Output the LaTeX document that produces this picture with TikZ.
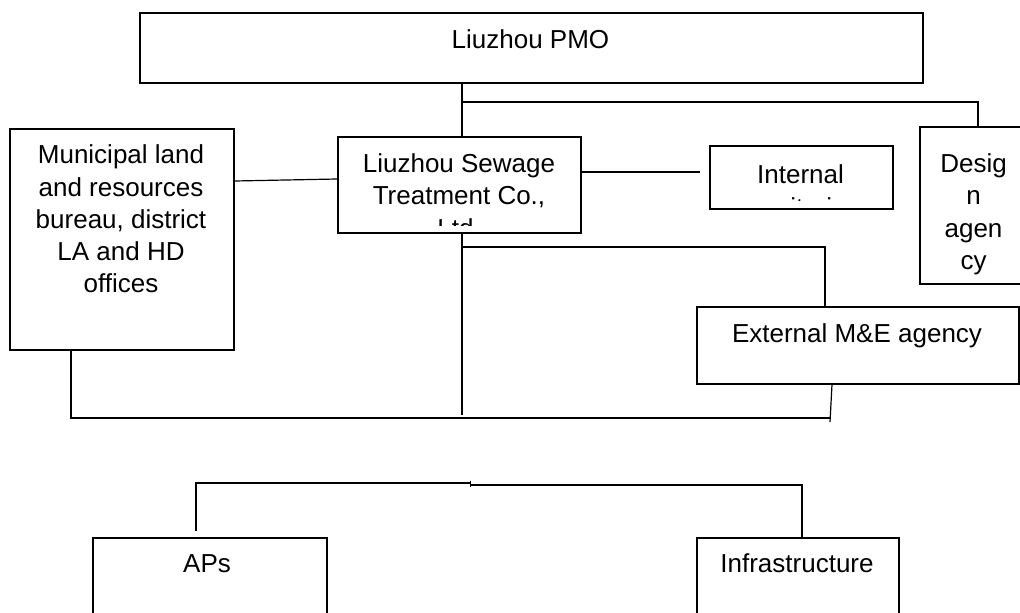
\documentclass[tikz,border=0pt]{standalone}
\usepackage{fontspec}
\setmainfont{Liberation Sans}
\usetikzlibrary{calc}
\begin{document}
\begin{tikzpicture}[x=1pt,y=-1pt,
  box/.style={draw, line width=1.5pt, inner sep=0pt, anchor=north west},
  conn/.style={line width=1.2pt},
  txt/.style={anchor=base, inner sep=0pt, font=\fontsize{26}{32}\selectfont}]
\clip (0,0) rectangle (1020,613);
% boxes
\node[box, minimum width=783, minimum height=70] (pmo) at (139,12) {};
\node[box, minimum width=224, minimum height=221] (mun) at (9,128) {};
\node[box, minimum width=243, minimum height=96] (sew) at (337,136) {};
\node[box, minimum width=183, minimum height=63] (int) at (709,145) {};
\node[box, minimum width=115, minimum height=157] (des) at (919,126) {};
\node[box, minimum width=322, minimum height=77] (ext) at (696,306) {};
\node[box, minimum width=234, minimum height=93] (aps) at (92,537) {};
\node[box, minimum width=202, minimum height=93] (inf) at (696,537) {};
% texts
\node[txt] (pmot) at (530.5,48) {Liuzhou PMO};
\node[txt] (mun1) at (121,163.5) {Municipal land};
\node[txt] (mun2) at (121,196) {and resources};
\node[txt] (mun3) at (121,228) {bureau, district};
\node[txt] (mun4) at (121,260) {LA and HD};
\node[txt] (mun5) at (121,292) {offices};
\begin{scope}
  \clip (337,136) rectangle (580,225);
  \node[txt] (sew1) at (459,172) {Liuzhou Sewage};
  \node[txt] (sew2) at (459,204.5) {Treatment Co.,};
  \node[txt] (sew3) at (459,237) {Ltd.};
\end{scope}
\begin{scope}
  \clip (709,145) rectangle (892,200);
  \node[txt] (int1) at (800.5,183) {Internal};
  \node[txt] (int2) at (800.5,216) {monitoring};
\end{scope}
\node[txt] (des1) at (973.5,172) {Desig};
\node[txt] (des2) at (973.5,204.5) {n};
\node[txt] (des3) at (973.5,237) {agen};
\node[txt] (des4) at (973.5,269) {cy};
\node[txt] (extt) at (857,342) {External M\&E agency};
\node[txt] (apst) at (207,572) {APs};
\node[txt] (inft) at (797,572) {Infrastructure};
% connectors
\coordinate (xm) at (462,0);
\coordinate (t1) at (462,102);
\coordinate (t2) at (462,247);
\coordinate (tb) at (462,415);
\coordinate (bl) at (830,418);
\coordinate (be) at (830,422);
\draw[conn] (pmo.south -| xm) -- (sew.north -| xm);
\draw[conn] (t1) -| ($(des.north west)+(59,0)$);
\draw[conn] ($(mun.north east)+(0,53)$) -- ($(sew.north west)+(0,43)$);
\draw[conn] ($(sew.north east)+(0,36)$) -- ($(int.north west)+(-9,27)$);
\draw[conn] (sew.south -| xm) -- (tb);
\draw[conn] (t2) -| ($(ext.north west)+(129,0)$);
\draw[conn] ($(mun.south west)+(62,0)$) |- (bl);
\draw[conn] ($(ext.south west)+(136,0)$) -- (be);
% lower group
\coordinate (l2) at (196,531);
\coordinate (lm) at (470,483);
\coordinate (rm) at (470,485);
\coordinate (tk1) at (470,481);
\coordinate (tk2) at (470,487);
\draw[conn] (l2) |- (lm);
\draw[conn] (rm) -| ($(inf.north west)+(106,0)$);
\draw[line width=0.8pt] (tk1) -- (tk2);
\end{tikzpicture}
\end{document}
